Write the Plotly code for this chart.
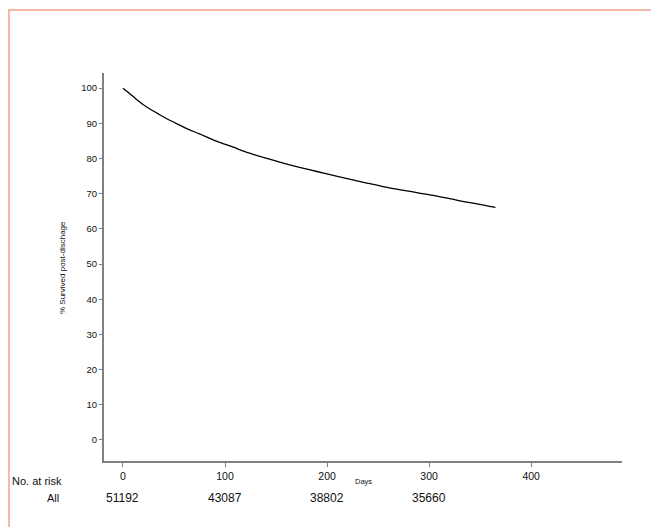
import plotly.graph_objects as go

# Kaplan-Meier survival
days = [0, 5, 10, 15, 20, 28, 35, 43, 52, 63, 75, 90, 108, 124, 141, 157, 173, 190, 206,
        222, 239, 255, 272, 288, 304, 320, 337, 351, 365]
survival = [100, 98.8, 97.6, 96.4, 95.3, 93.8, 92.6, 91.3, 90.0, 88.4, 87.0, 85.1, 83.2,
            81.5, 80.0, 78.7, 77.5, 76.3, 75.2, 74.1, 73.0, 72.0, 71.1, 70.3, 69.5, 68.6,
            67.6, 66.9, 66.1]

# Number at risk table
risk_days = [0, 100, 200, 300]
risk_counts = ["51192", "43087", "38802", "35660"]
risk_group = "All"

x_ticks = [0, 100, 200, 300, 400]
y_ticks = [0, 10, 20, 30, 40, 50, 60, 70, 80, 90, 100]

W, H = 651, 527
ML, MR, MT, MB = 104, 29, 73, 66
PW, PH = W - ML - MR, H - MT - MB

def px(x):
    return (x - ML) / PW

def py(y):
    return (H - MB - y) / PH

FONT = "Liberation Sans"
GREY = "#808080"
PINK = "#f6b8a8"
TXT = "#111111"

fig = go.Figure()
fig.add_trace(go.Scatter(x=days, y=survival, mode="lines", line_shape="spline",
                         line=dict(color="black", width=1.3), showlegend=False))

fig.update_layout(
    width=W, height=H,
    margin=dict(l=ML, r=MR, t=MT, b=MB),
    paper_bgcolor="white", plot_bgcolor="white",
    font=dict(family=FONT, color=TXT),
    xaxis=dict(range=[-18.6, 489], tickvals=x_ticks, showgrid=False, zeroline=False,
               showline=True, linecolor=GREY, linewidth=2,
               ticks="outside", ticklen=4, tickcolor=GREY, tickwidth=1,
               tickfont=dict(size=10.5, family=FONT, color=TXT)),
    yaxis=dict(range=[-6, 104.3], tickvals=y_ticks, showgrid=False, zeroline=False,
               showline=True, linecolor=GREY, linewidth=2,
               ticks="outside", ticklen=3, tickcolor=GREY, tickwidth=1,
               tickfont=dict(size=9.5, family=FONT, color=TXT)),
)

annotations = [
    dict(text="Days", x=0.5, y=py(481), xref="paper", yref="paper",
         showarrow=False, font=dict(size=7.5, family=FONT, color=TXT),
         xanchor="center", yanchor="middle"),
    dict(text="% Survived post-dischage", x=px(62), y=py(268), xref="paper", yref="paper",
         showarrow=False, textangle=-90, font=dict(size=8, family=FONT, color=TXT),
         xanchor="center", yanchor="middle"),
    dict(text="No. at risk", x=px(10), y=py(481), xref="paper", yref="paper",
         showarrow=False, font=dict(size=11, family=FONT, color=TXT),
         xanchor="left", yanchor="middle"),
    dict(text=risk_group, x=px(61), y=py(498), xref="paper", yref="paper",
         showarrow=False, font=dict(size=11, family=FONT, color=TXT),
         xanchor="right", yanchor="middle"),
]
for d, c in zip(risk_days, risk_counts):
    annotations.append(dict(text=c, x=d, y=py(498), xref="x", yref="paper",
                            showarrow=False, font=dict(size=12, family=FONT, color=TXT),
                            xanchor="center", yanchor="middle"))
fig.update_layout(annotations=annotations)

fig.update_layout(shapes=[
    dict(type="line", xref="paper", yref="paper", x0=px(8), x1=px(W + 5), y0=py(10), y1=py(10),
         line=dict(color=PINK, width=2)),
    dict(type="line", xref="paper", yref="paper", x0=px(9), x1=px(9), y0=py(10), y1=py(H + 5),
         line=dict(color=PINK, width=2)),
])

fig.write_html("out.html", config={"displayModeBar": False},
               post_script="document.body.style.margin='0px';document.body.style.overflow='hidden';")
